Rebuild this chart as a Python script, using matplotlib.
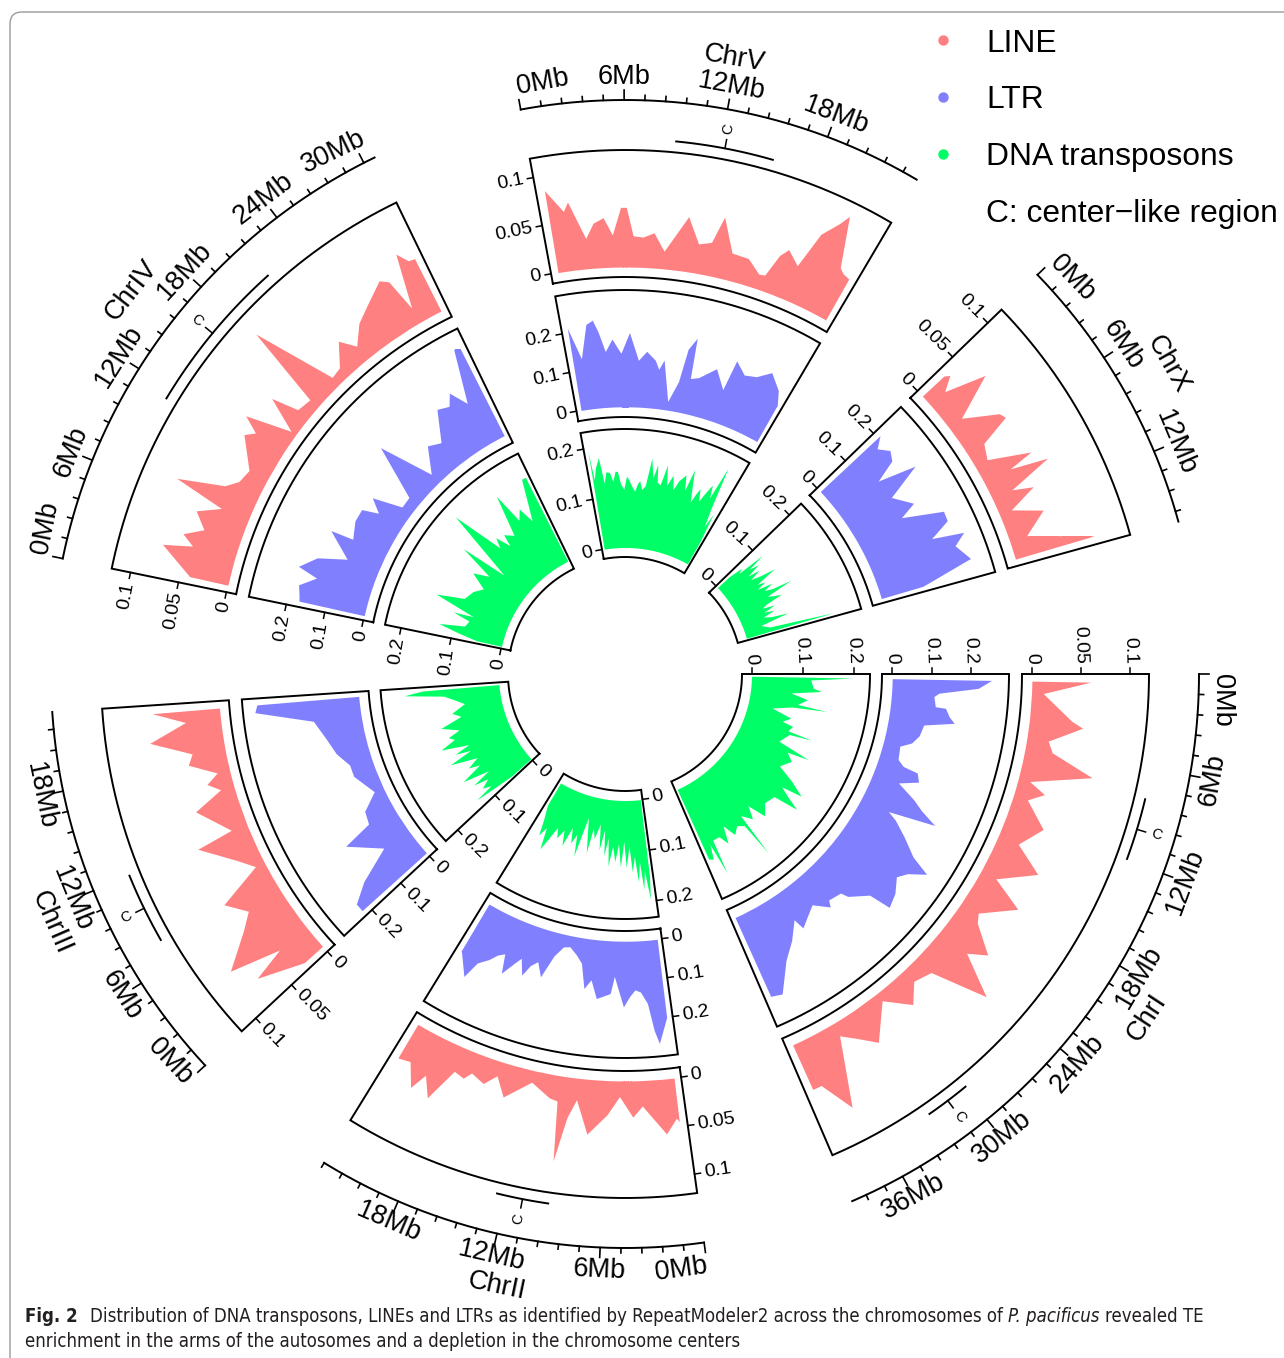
import numpy as np
import matplotlib.pyplot as plt
from matplotlib.patches import FancyBboxPatch
from matplotlib import font_manager

W, H = 1284, 1358
CX, CY = 625, 674          # centre of the circos plot (px)

plt.rcParams['font.family'] = ['Liberation Sans', 'DejaVu Sans']

chroms = ['ChrI', 'ChrII', 'ChrIII', 'ChrIV', 'ChrV', 'ChrX']
chrom_len = [39.3, 22.8, 22.6, 30.7, 23.7, 16.2]   # Mb

# (position Mb, fraction)
chrI_line = [(0, .060), (1.02, .012), (3.05, .043), (3.5, .055), (4.87, .022), (5.74, .028), (7.0, .073),
             (8.43, .012), (9.14, .030), (9.95, .015), (11.78, .040), (13.61, .022), (15.13, .053), (16.96, .017),
             (18.18, .052), (20.11, .020), (20.82, .025), (22.34, .053), (23.25, .035), (24.78, .079),
             (26.3, .021), (27.82, .015), (29.14, .032), (30.87, .009), (33.1, .041), (34.22, .027),
             (35.44, .014), (37.27, .084), (38.59, .050), (39.3, .050)]
chrI_ltr = [(0, .253), (0.81, .219), (1.52, .120), (1.93, .108), (3.05, .114), (3.1, .140), (3.96, .152),
            (4.57, .167), (5.28, .091), (6.6, .085), (7.62, .070), (8.33, .043), (9.95, .048), (10.56, .066),
            (10.76, .105), (11.68, .116), (12.59, .069), (13.71, .122), (14.42, .150), (15.23, .197),
            (16.15, .076), (16.65, .102), (17.77, .142), (19.09, .188), (19.8, .241), (20.82, .200),
            (21.73, .182), (23.15, .205), (24.58, .217), (24.98, .159), (26.71, .121), (27.01, .102),
            (28.54, .094), (28.94, .110), (30.36, .076), (31.48, .090), (32.8, .109), (33.1, .079),
            (34.63, .120), (36.25, .156), (38.18, .227), (39.3, .220)]
chrI_dna = [(0, .199), (0.51, .116), (2.03, .122), (2.49, .138), (3.35, .079), (4.27, .113), (5.48, .095),
            (5.79, .153), (6.19, .085), (7.31, .048), (8.43, .088), (9.55, .074), (9.95, .096), (11.07, .090),
            (11.27, .139), (11.68, .095), (13.71, .081), (14.62, .148), (15.03, .105), (16.25, .120),
            (18.08, .104), (19.29, .140), (20.51, .172), (21.12, .130), (21.83, .150), (22.65, .180),
            (23.36, .130), (25.29, .124), (27.01, .142), (27.93, .105), (28.94, .130), (30.26, .110),
            (30.57, .201), (30.87, .130), (31.99, .121), (33.21, .133), (34.12, .106), (35.03, .140),
            (35.85, .120), (37.17, .120), (37.57, .190), (37.98, .125), (38.59, .154), (39.3, .150)]

chrII_line = [(0, .045), (0.19, .041), (1.07, .056), (2.81, .026), (3.59, .037), (4.66, .016), (5.63, .035),
              (7.08, .056), (8.15, .022), (8.73, .041), (9.31, .087), (9.7, .026), (10.38, .024), (12.03, .012),
              (13.97, .034), (14.94, .015), (15.81, .027), (16.98, .021), (17.46, .029), (18.33, .026),
              (19.4, .062), (20.27, .042), (20.86, .060), (21.83, .037), (22.8, .040)]
chrII_ltr = [(0, .200), (0.97, .264), (1.36, .230), (1.84, .160), (2.52, .130), (3.1, .124), (3.69, .140),
             (4.37, .167), (5.43, .090), (5.82, .134), (7.28, .149), (8.05, .103), (8.73, .127), (9.41, .064),
             (10.19, .045), (11.16, .028), (11.93, .032), (12.8, .060), (13.68, .120), (14.45, .085),
             (15.13, .100), (15.71, .130), (16.39, .090), (16.98, .110), (17.85, .144), (18.33, .095),
             (19.01, .105), (19.69, .125), (20.66, .146), (21.24, .192), (22.7, .141), (22.8, .140)]
chrII_dna = [(0, .150), (0.29, .196), (0.78, .140), (1.16, .175), (1.55, .120), (1.94, .160), (2.43, .110),
             (2.91, .140), (3.4, .090), (3.98, .131), (4.46, .080), (5.04, .130), (5.53, .085), (6.11, .120),
             (6.69, .090), (7.28, .129), (7.76, .075), (8.25, .110), (8.73, .060), (9.31, .100), (9.89, .050),
             (10.67, .080), (11.25, .060), (11.64, .110), (12.32, .070), (12.9, .042), (13.77, .122),
             (14.36, .080), (15.04, .100), (15.71, .070), (16.49, .110), (17.17, .080), (17.95, .100),
             (18.62, .080), (19.4, .110), (19.98, .133), (20.66, .090), (21.34, .110), (21.92, .080),
             (22.5, .060), (22.8, .050)]

chrIII_line = [(0, .025), (1.45, .072), (2.05, .036), (3.04, .089), (4.9, .054), (5.95, .039), (7.34, .057),
               (8.79, .010), (9.91, .024), (11.96, .056), (12.36, .017), (14.7, .045), (15.81, .014),
               (16.52, .026), (17.23, .013), (18.34, .040), (19.16, .034), (20.47, .075), (21.69, .036),
               (22.6, .069)]
chrIII_ltr = [(0, .220), (0.86, .220), (2.13, .169), (3.75, .077), (6.28, .155), (7.09, .076), (8.61, .069),
              (10.24, .025), (12.97, .058), (14.39, .058), (16.11, .082), (18.04, .098), (20.27, .122),
              (21.89, .267), (22.6, .260)]
chrIII_dna = [(0, .050), (0.51, .090), (1.01, .134), (1.32, .094), (2.03, .110), (2.84, .090), (3.45, .120),
              (4.05, .080), (5.07, .133), (6.08, .088), (6.69, .110), (7.6, .085), (8.82, .138), (9.53, .090),
              (10.14, .120), (10.74, .088), (11.86, .142), (12.77, .110), (13.48, .120), (14.19, .095),
              (15.51, .128), (16.72, .084), (17.74, .100), (19.16, .072), (20.27, .090), (21.28, .110),
              (22.09, .187), (22.6, .150)]

chrIV_line = [(0, .040), (1.86, .075), (2.35, .045), (3.04, .058), (3.83, .039), (5.0, .053), (5.89, .030),
              (6.67, .084), (7.65, .036), (8.44, .025), (9.61, .021), (11.87, .044), (12.46, .035),
              (13.15, .053), (14.22, .006), (15.4, .042), (15.99, .014), (17.27, .011), (18.25, .097),
              (19.91, .010), (20.9, .012), (22.27, .033), (23.15, .017), (24.43, .034), (25.8, .044),
              (27.57, .058), (28.15, .052), (28.65, .017), (29.63, .073), (30.21, .061), (30.7, .060)]
chrIV_ltr = [(0, .170), (0.55, .173), (1.63, .181), (2.84, .142), (3.43, .195), (4.91, .157), (5.98, .085),
             (8.14, .153), (8.34, .093), (10.3, .110), (11.77, .110), (12.46, .069), (13.54, .104),
             (14.72, .029), (16.19, .030), (18.34, .168), (20.21, .028), (22.17, .088), (23.64, .072),
             (25.51, .146), (26.78, .135), (27.57, .163), (28.65, .117), (30.12, .254), (30.7, .246)]
chrIV_dna = [(0, .050), (0.78, .090), (1.57, .130), (2.45, .080), (3.73, .075), (4.41, .110), (4.91, .070),
             (6.28, .154), (7.65, .100), (9.61, .091), (11.18, .076), (12.75, .110), (14.03, .080),
             (15.3, .153), (16.19, .058), (18.34, .205), (19.82, .100), (20.6, .120), (21.58, .090),
             (22.07, .114), (23.54, .100), (25.21, .182), (26.0, .118), (27.17, .136), (28.06, .103),
             (30.02, .184), (30.7, .184)]

chrV_line = [(0, .085), (1.14, .061), (1.53, .070), (2.62, .031), (3.29, .046), (4.08, .051), (4.75, .033),
             (5.42, .061), (5.85, .061), (6.4, .032), (7.19, .031), (8.04, .036), (8.96, .018), (10.57, .056),
             (11.65, .030), (12.64, .034), (13.23, .062), (14.42, .028), (15.8, .027), (16.99, .015),
             (17.48, .016), (18.07, .040), (18.57, .049), (19.65, .037), (20.34, .076), (21.23, .094),
             (21.63, .105), (22.71, .054), (23.11, .050), (23.7, .048)]
chrV_ltr = [(0, .212), (0.97, .130), (1.87, .215), (2.54, .224), (3.02, .193), (3.62, .142), (4.4, .173),
            (5.31, .136), (6.21, .189), (7.24, .119), (8.09, .143), (9.11, .122), (9.59, .100), (10.07, .125),
            (11.16, .022), (12.05, .076), (12.44, .162), (13.13, .194), (13.33, .090), (14.22, .097),
            (15.9, .131), (17.28, .085), (17.68, .166), (18.96, .139), (20.24, .147), (21.53, .173),
            (23.01, .140), (23.7, .106)]
chrV_dna = [(0, .195), (0.3, .137), (0.79, .160), (1.48, .179), (1.98, .128), (2.47, .150), (3.06, .148),
            (3.56, .130), (4.05, .150), (4.44, .149), (4.94, .125), (5.53, .114), (6.02, .140), (6.52, .131),
            (7.01, .120), (7.6, .111), (8.0, .125), (8.39, .132), (8.89, .115), (9.48, .123), (10.07, .178),
            (10.67, .140), (11.16, .167), (11.55, .133), (12.15, .129), (12.74, .170), (13.33, .130),
            (14.02, .153), (14.62, .125), (15.21, .145), (16.1, .160), (16.69, .130), (17.18, .175),
            (17.78, .140), (18.37, .112), (18.76, .130), (19.16, .144), (19.75, .120), (20.34, .142),
            (20.84, .160), (21.33, .135), (21.92, .203), (22.42, .120), (22.91, .080), (23.31, .110),
            (23.7, .050)]

chrX_line = [(0, .030), (0.29, .035), (0.98, .020), (2.06, .062), (3.54, .016), (5.01, .050), (5.5, .053),
             (6.28, .020), (7.56, .014), (8.74, .057), (9.13, .030), (9.72, .069), (10.7, .022), (11.19, .043),
             (12.18, .013), (13.16, .043), (14.63, .018), (16.2, .084)]
chrX_ltr = [(0, .208), (0.79, .180), (1.77, .202), (2.7, .189), (3.5, .130), (4.52, .228), (5.79, .133),
            (7.56, .173), (8.25, .128), (9.72, .230), (10.7, .228), (11.69, .173), (12.37, .254), (13.26, .221),
            (14.93, .247), (16.2, .110)]
chrX_dna = [(0, .030), (0.49, .060), (0.98, .050), (1.37, .108), (1.77, .070), (2.26, .090), (2.75, .060),
            (3.24, .085), (3.73, .060), (4.32, .080), (4.81, .110), (5.4, .065), (5.89, .080), (6.38, .060),
            (6.87, .090), (7.37, .070), (7.86, .085), (8.25, .125), (8.74, .070), (9.23, .080), (9.72, .096),
            (10.21, .060), (10.61, .050), (11.1, .075), (11.59, .050), (12.08, .070), (12.57, .045),
            (13.16, .060), (13.65, .093), (14.24, .035), (15.22, .050), (16.2, .179)]

series = {
    'ChrI': {'LINE': chrI_line, 'LTR': chrI_ltr, 'DNA': chrI_dna},
    'ChrII': {'LINE': chrII_line, 'LTR': chrII_ltr, 'DNA': chrII_dna},
    'ChrIII': {'LINE': chrIII_line, 'LTR': chrIII_ltr, 'DNA': chrIII_dna},
    'ChrIV': {'LINE': chrIV_line, 'LTR': chrIV_ltr, 'DNA': chrIV_dna},
    'ChrV': {'LINE': chrV_line, 'LTR': chrV_ltr, 'DNA': chrV_dna},
    'ChrX': {'LINE': chrX_line, 'LTR': chrX_ltr, 'DNA': chrX_dna},
}

# centre-like regions (Mb)
center_chrom = ['ChrI', 'ChrI', 'ChrII', 'ChrIII', 'ChrIV', 'ChrV']
center_start = [7.62, 30.06, 9.22, 7.4, 11.18, 9.09]
center_end = [11.68, 33.0, 12.61, 12.06, 21.58, 15.5]

legend_labels = ['LINE', 'LTR', 'DNA transposons', 'C: center\u2212like region']

# ---------------- layout ----------------
GAP, PAD = 15.4, 1.0
deg_per_mb = (360 - len(chroms) * (GAP + 2 * PAD)) / sum(chrom_len)
sec_start = []
a = 0.0
for L in chrom_len:
    sec_start.append(a)
    a += L * deg_per_mb + 2 * PAD + GAP
sec_end = [s + L * deg_per_mb + 2 * PAD for s, L in zip(sec_start, chrom_len)]

track_names = ['LINE', 'LTR', 'DNA']
track_r = {'LINE': (397, 524), 'LTR': (257, 384), 'DNA': (117, 245)}
track_ylim = {'LINE': (-0.0102, 0.1196), 'LTR': (-0.026, 0.297), 'DNA': (-0.0187, 0.232)}
track_ticks = {'LINE': ['0', '0.05', '0.1'], 'LTR': ['0', '0.1', '0.2'], 'DNA': ['0', '0.1', '0.2']}
track_col = {'LINE': '#FF8080', 'LTR': '#8080FF', 'DNA': '#00FF66'}

R_C, R_AX, R_MB, R_NAME = 535, 574, 597, 625
LW = 1.4
MB_FS = 19.5


def data_phi(i, pos):
    return sec_start[i] + PAD + np.asarray(pos, dtype=float) * deg_per_mb


def axis_phi(i, pos):
    return sec_start[i] + np.asarray(pos, dtype=float) * (sec_end[i] - sec_start[i]) / chrom_len[i]


def yr(name, v):
    r0, r1 = track_r[name]
    lo, hi = track_ylim[name]
    return r0 + (np.asarray(v, dtype=float) - lo) / (hi - lo) * (r1 - r0)


def tang_rot(phi):
    return (-phi) % 180 - 90


def rad_rot(phi):
    return (-phi + 90) % 180 - 90


def udir(rot):
    return np.array([np.cos(np.radians(rot)), np.sin(np.radians(rot))])


fig = plt.figure(figsize=(W / 100, H / 100), dpi=100)
bg = fig.add_axes([0, 0, 1, 1])
bg.set_xlim(0, W)
bg.set_ylim(H, 0)
bg.axis('off')

R = 700
ax = fig.add_axes([(CX - R) / W, (H - CY - R) / H, 2 * R / W, 2 * R / H], projection='polar')
ax.set_theta_zero_location('E')
ax.set_theta_direction(-1)
ax.axis('off')

for i, c in enumerate(chroms):
    s, e = sec_start[i], sec_end[i]
    for name in track_names:
        pts = np.array(series[c][name])
        ph = np.radians(data_phi(i, pts[:, 0]))
        ax.fill_between(ph, yr(name, 0.0), yr(name, pts[:, 1]), color=track_col[name], lw=0, zorder=2)
        r0, r1 = track_r[name]
        arc = np.radians(np.linspace(s, e, 200))
        th = np.concatenate([arc, arc[::-1], arc[:1]])
        rr = np.concatenate([np.full(200, r0), np.full(200, r1), [r0]])
        ax.plot(th, rr, color='black', lw=LW, zorder=3, solid_joinstyle='miter')

        # y axis on the start edge
        n = np.array([-np.sin(np.radians(-s)), np.cos(np.radians(-s))])
        for lab in track_ticks[name]:
            r = float(yr(name, float(lab)))
            d1, d2 = 6, 10
            p1 = s - np.degrees(np.arctan2(d1, r))
            ax.plot(np.radians([s, p1]), [r, np.hypot(r, d1)], color='black', lw=1.1, zorder=3)
            pl = s - np.degrees(np.arctan2(d2, r))
            rot = tang_rot(pl)
            ha = 'left' if udir(rot) @ n > 0 else 'right'
            ax.text(np.radians(pl), np.hypot(r, d2), lab, rotation=rot, rotation_mode='anchor',
                    ha=ha, va='center', fontsize=14)

    # genomic axis
    arc = np.radians(np.linspace(s, e, 200))
    ax.plot(arc, np.full(200, R_AX), color='black', lw=LW, zorder=3)
    L = chrom_len[i]
    nt = int(L / 1.2 + 1e-9) + 1
    for j in range(nt):
        p = np.radians(axis_phi(i, j * 1.2))
        ax.plot([p, p], [R_AX, R_AX + (10 if j % 5 == 0 else 5)], color='black', lw=1.2, zorder=3)
    nm = int(L / 6 + 1e-9) + 1
    for j in range(nm):
        m = 6 * j
        lab = f'{m}Mb'
        ph = float(axis_phi(i, m))
        rot = tang_rot(ph)
        th = np.radians(-ph)
        cw = np.array([np.sin(th), -np.cos(th)])
        reads_cw = udir(rot) @ cw > 0
        ha = 'center'
        half_w = 0.31 * len(lab) * MB_FS / 0.72
        if j == 0:
            ha = 'left' if reads_cw else 'right'
        elif j == nm - 1 and np.radians((L - m) * deg_per_mb) * R_MB < half_w:
            # last label pushed in so that it ends at the end of the sector
            ha = 'right' if reads_cw else 'left'
            ph = float(axis_phi(i, L))
            rot = tang_rot(ph)
        ax.text(np.radians(ph), R_MB, lab, rotation=rot, rotation_mode='anchor',
                ha=ha, va='center', fontsize=MB_FS)
    mid = (s + e) / 2
    ax.text(np.radians(mid), R_NAME, c, rotation=tang_rot(mid), rotation_mode='anchor',
            ha='center', va='center', fontsize=MB_FS)

# centre-like regions
for c, a0, a1 in zip(center_chrom, center_start, center_end):
    i = chroms.index(c)
    arc = np.radians(np.linspace(data_phi(i, a0), data_phi(i, a1), 60))
    ax.plot(arc, np.full(60, R_C), color='black', lw=LW, zorder=3)
    pm = float(data_phi(i, (a0 + a1) / 2))
    ax.plot(np.radians([pm, pm]), [R_C, R_C + 9], color='black', lw=1.1, zorder=3)
    ax.text(np.radians(pm), R_C + 20, 'C', rotation=rad_rot(pm), rotation_mode='anchor',
            ha='center', va='center', fontsize=10.5)

ax.set_ylim(0, R)
ax.set_xlim(0, 2 * np.pi)

# legend
leg_cols = [track_col['LINE'], track_col['LTR'], track_col['DNA']]
leg_base = [51.5, 108.3, 165, 221.7]
for k, lab in enumerate(legend_labels):
    if k < 3:
        bg.plot(943, leg_base[k] - 11.5, 'o', ms=7.5, color=leg_cols[k], mec='none')
    bg.text(986, leg_base[k], lab, fontsize=22.9, va='baseline', ha='left')

# frame
bg.add_patch(FancyBboxPatch((10, 12), 1400, 1400, boxstyle='round,pad=0,rounding_size=12',
                            fc='none', ec='#9A9A9A', lw=1.0))

# caption (prefer a condensed face if one is installed)
cap_fam, cap_stretch = 'Liberation Sans', 'normal'
for f in font_manager.fontManager.ttflist:
    if 'Mono' in f.name or 'Serif' in f.name:
        continue
    if 'Narrow' in f.name or 'Condensed' in f.name or f.stretch in ('condensed', 'semi-condensed'):
        cap_fam, cap_stretch = f.name, f.stretch
        break
renderer = fig.canvas.get_renderer()
cap_col = '#231F20'
cap_kw = dict(family=cap_fam, fontstretch=cap_stretch)


def text_w(s, **kw):
    t = bg.text(0, 100, s, **kw)
    w = t.get_window_extent(renderer).width
    t.remove()
    return w


line1 = [('Fig. 2', 'bold', 'normal', 2.3),
         ('Distribution of DNA transposons, LINEs and LTRs as identified by RepeatModeler2 across the chromosomes of',
          'normal', 'normal', 1),
         ('P. pacificus', 'normal', 'italic', 1),
         ('revealed TE', 'normal', 'normal', 0)]
line2 = 'enrichment in the arms of the autosomes and a depletion in the chromosome centers'


def line_width(size):
    sp = text_w('a a', fontsize=size, **cap_kw) - text_w('aa', fontsize=size, **cap_kw)
    tot = 0
    for txt, wt, st, g in line1:
        tot += text_w(txt, fontsize=size, fontweight=wt, fontstyle=st, **cap_kw) + g * sp
    return tot, sp


w0, _ = line_width(12)
cap_size = 12 * 1180 / w0
_, sp = line_width(cap_size)
x = 25
for txt, wt, st, g in line1:
    t = bg.text(x, 1322, txt, fontsize=cap_size, fontweight=wt, fontstyle=st,
                color=cap_col, va='baseline', ha='left', **cap_kw)
    x += t.get_window_extent(renderer).width + g * sp
bg.text(25, 1347, line2, fontsize=cap_size, color=cap_col, va='baseline', ha='left', **cap_kw)

fig.savefig('out.png', dpi=100)
